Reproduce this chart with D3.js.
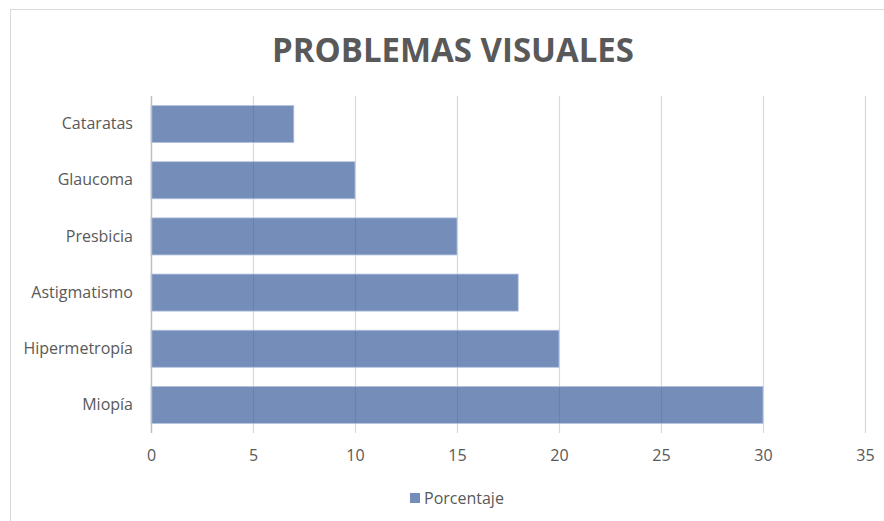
<!DOCTYPE html>
<html>
<head>
<meta charset="utf-8">
<script src="https://cdn.jsdelivr.net/npm/d3@7.9.0/dist/d3.min.js"></script>
<style>
  body { margin: 0; background: #fff; }
  svg { display: block; }
</style>
</head>
<body>
<div id="chart"></div>
<script>
const categories = ["Cataratas", "Glaucoma", "Presbicia", "Astigmatismo", "Hipermetropía", "Miopía"];
const values = [7, 10, 15, 18, 20, 30];
const xTicks = [0, 5, 10, 15, 20, 25, 30, 35];
const seriesName = "Porcentaje";
const chartTitle = "PROBLEMAS VISUALES";

const W = 884, H = 521;
const margin = { top: 96, right: 19, bottom: 88, left: 151 };
const width = W - margin.left - margin.right;
const height = H - margin.top - margin.bottom;
const font = "'Open Sans', sans-serif";
const textColor = "#595959";

const svg = d3.select("#chart").append("svg")
    .attr("width", W)
    .attr("height", H);

// chart border
svg.append("rect")
    .attr("x", 10.5).attr("y", 9.5)
    .attr("width", W + 20).attr("height", H + 20)
    .attr("fill", "none")
    .attr("stroke", "#d9d9d9");

svg.append("text")
    .attr("x", 453)
    .attr("y", 62)
    .attr("text-anchor", "middle")
    .attr("textLength", 362)
    .attr("lengthAdjust", "spacingAndGlyphs")
    .style("font-family", font)
    .style("font-weight", "bold")
    .style("font-size", "34px")
    .style("fill", textColor)
    .text(chartTitle);

const g = svg.append("g")
    .attr("transform", `translate(${margin.left},${margin.top})`);

const x = d3.scaleLinear().domain([0, 35]).range([0, width]);
const y = d3.scaleBand().domain(categories).range([0, height]).paddingInner(0.34).paddingOuter(0.17);

// gridlines
g.selectAll("line.grid")
    .data(xTicks.slice(1))
    .enter().append("line")
    .attr("class", "grid")
    .attr("x1", d => Math.round(x(d)) + 0.5)
    .attr("x2", d => Math.round(x(d)) + 0.5)
    .attr("y1", 0).attr("y2", height)
    .attr("stroke", "#d9d9d9")
    .attr("stroke-width", 1.2);

// bars
g.selectAll("rect.bar")
    .data(categories)
    .enter().append("rect")
    .attr("class", "bar")
    .attr("x", 0)
    .attr("y", d => y(d))
    .attr("width", (d, i) => x(values[i]))
    .attr("height", y.bandwidth())
    .attr("fill", "#2f5597")
    .attr("fill-opacity", 0.67)
    .attr("stroke", "#b4c4e0")
    .attr("stroke-width", 0.8);

// y axis line
g.append("line")
    .attr("x1", 0.5).attr("x2", 0.5)
    .attr("y1", 0).attr("y2", height)
    .attr("stroke", "#bfbfbf")
    .attr("stroke-width", 1.5);

// x tick labels
const xAxis = g.append("g")
    .attr("transform", `translate(0,${height})`)
    .call(d3.axisBottom(x).tickValues(xTicks).tickSize(0).tickPadding(17));
xAxis.select(".domain").remove();
xAxis.selectAll("text")
    .style("font-family", font)
    .style("font-size", "16px")
    .style("fill", textColor);

// y labels
const yAxis = g.append("g")
    .call(d3.axisLeft(y).tickSize(0).tickPadding(18));
yAxis.select(".domain").remove();
yAxis.selectAll("text")
    .style("font-family", font)
    .style("font-size", "16px")
    .style("fill", textColor);

// legend
const legend = svg.append("g").attr("transform", "translate(410,493)");
legend.append("rect")
    .attr("width", 10).attr("height", 10)
    .attr("fill", "#2f5597")
    .attr("fill-opacity", 0.67);
legend.append("text")
    .attr("x", 14).attr("y", 5)
    .attr("dy", "0.35em")
    .style("font-family", font)
    .style("font-size", "16px")
    .style("fill", textColor)
    .text(seriesName);
</script>
</body>
</html>
